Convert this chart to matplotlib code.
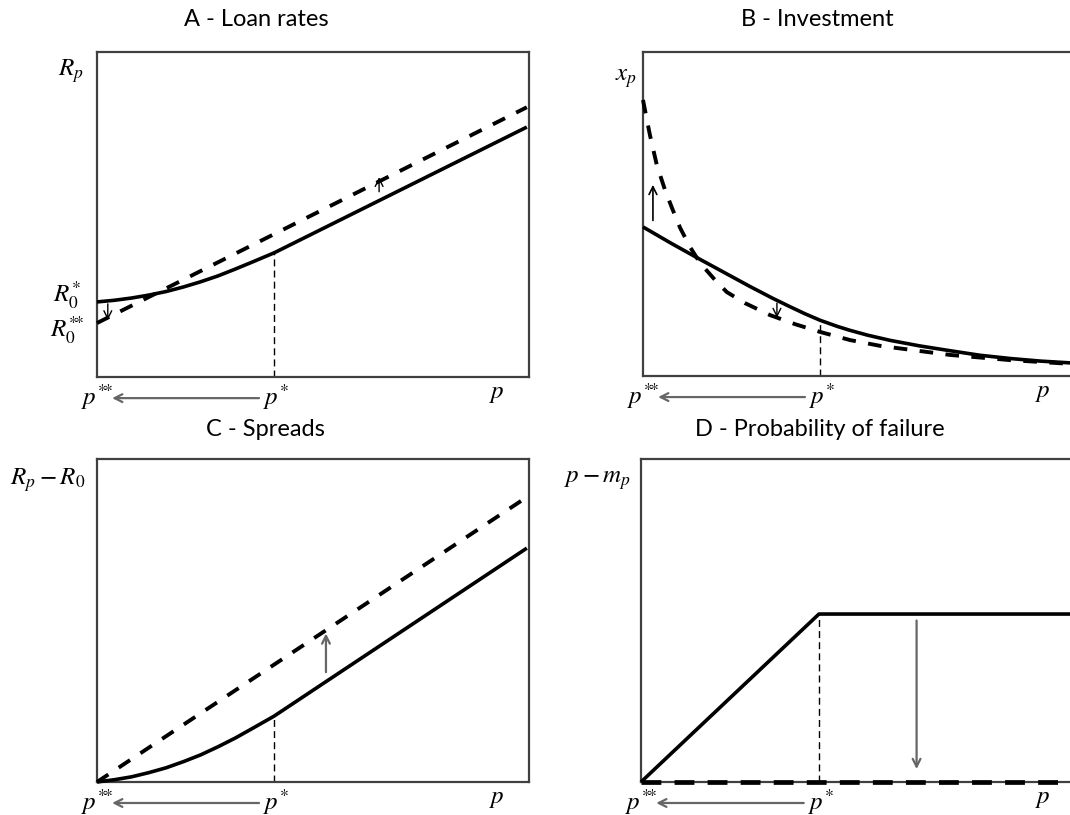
"""Four schematic panels: loan rates, investment, spreads, probability of failure."""

import matplotlib.pyplot as plt
from matplotlib.patches import FancyArrowPatch

plt.rcParams["mathtext.fontset"] = "stix"

# p* position on the normalised p axis
P_STAR = 0.41

# Panel A - loan rates
a_solid_p = [0.0, 0.04, 0.08, 0.12, 0.16, 0.20, 0.24, 0.28, 0.32, 0.36, P_STAR, 0.995]
a_solid_r = [0.231, 0.236, 0.243, 0.252, 0.263, 0.277, 0.293, 0.311, 0.332, 0.354, 0.382, 0.769]
a_dash_p = [0.0, 0.995]
a_dash_r = [0.166, 0.830]

# Panel B - investment
b_solid_p = [0.0, 0.066, 0.132, 0.19, 0.248, 0.30, 0.34, 0.375, P_STAR, 0.45, 0.479,
             0.52, 0.572, 0.64, 0.711, 0.78, 0.85, 0.92, 0.995]
b_solid_x = [0.46, 0.409, 0.360, 0.318, 0.276, 0.240, 0.214, 0.192, 0.172, 0.153, 0.141,
             0.126, 0.110, 0.093, 0.078, 0.064, 0.054, 0.046, 0.040]
b_dash_p = [0.0, 0.016, 0.032, 0.051, 0.067, 0.086, 0.109, 0.132, 0.167, 0.194, 0.236,
            0.294, 0.352, P_STAR, 0.479, 0.549, 0.711, 0.85, 0.995]
b_dash_x = [0.852, 0.744, 0.651, 0.574, 0.519, 0.457, 0.398, 0.349, 0.296, 0.259, 0.225,
            0.188, 0.160, 0.136, 0.111, 0.093, 0.065, 0.049, 0.037]

# Panel C - spreads
c_solid_p = [0.0, 0.04, 0.08, 0.12, 0.16, 0.20, 0.24, 0.28, 0.32, 0.36, P_STAR, 0.995]
c_solid_s = [0.0, 0.007, 0.016, 0.029, 0.044, 0.063, 0.084, 0.109, 0.136, 0.166, 0.204, 0.724]
c_dash_p = [0.0, 0.995]
c_dash_s = [0.0, 0.882]

# Panel D - probability of failure
d_solid_p = [0.0, P_STAR, 1.0]
d_solid_f = [0.0, 0.52, 0.52]
d_dash_p = [0.0, 1.0]
d_dash_f = [0.0, 0.0]

titles = ["A - Loan rates", "B - Investment", "C - Spreads", "D - Probability of failure"]
title_pos = [(256, 20), (817, 20), (265, 430), (820, 430)]

W, H = 1070, 815
fig = plt.figure(figsize=(W / 100, H / 100), dpi=100)

SPINE = "#404040"
ARROW = "#666666"
MATH = 18


def make_axes(left, top, right, bottom):
    ax = fig.add_axes([left / W, 1 - bottom / H, (right - left) / W, (bottom - top) / H])
    ax.set_xlim(0, 1)
    ax.set_ylim(0, 1)
    ax.set_xticks([])
    ax.set_yticks([])
    for s in ax.spines.values():
        s.set_color(SPINE)
        s.set_linewidth(1.6)
    return ax


def solid(ax, x, y):
    ax.plot(x, y, color="black", lw=2.6, solid_capstyle="butt", solid_joinstyle="round",
            clip_on=False, zorder=3)


def dashed(ax, x, y, lw=2.8, dashes=(3.5, 3.2)):
    ax.plot(x, y, color="black", lw=lw, dashes=dashes, clip_on=False, zorder=3)


def vline(ax, top):
    ax.plot([P_STAR, P_STAR], [0, top], color="black", lw=1.0, dashes=(5, 3))


def arrow(ax, start, end, color="black", lw=1.0):
    ax.add_patch(FancyArrowPatch(start, end, arrowstyle="->", mutation_scale=14,
                                 color=color, lw=lw, clip_on=False, shrinkA=0, shrinkB=0))


def p_labels(ax, y=-0.062):
    ax.text(0.0, y, r"$p^{{*}\!{*}}$", fontsize=MATH, ha="center", va="center", clip_on=False)
    ax.text(P_STAR + 0.005, y, r"$p^{*}$", fontsize=MATH, ha="center", va="center", clip_on=False)
    ax.text(0.926, y + 0.012, r"$p$", fontsize=MATH, ha="center", va="center", clip_on=False)
    arrow(ax, (P_STAR - 0.035, y - 0.003), (0.035, y - 0.003), color=ARROW, lw=1.6)


# A
ax = make_axes(97, 52, 529, 377)
solid(ax, a_solid_p, a_solid_r)
dashed(ax, a_dash_p, a_dash_r)
vline(ax, a_solid_r[10])
arrow(ax, (0.025, 0.225), (0.025, 0.175), lw=1.0)
arrow(ax, (0.653, 0.57), (0.653, 0.615), lw=1.0)
ax.text(-0.06, 0.94, r"$R_p$", fontsize=MATH, ha="center", va="center", clip_on=False)
ax.text(-0.07, 0.25, r"$R_0^{*}$", fontsize=MATH, ha="center", va="center", clip_on=False)
ax.text(-0.07, 0.145, r"$R_0^{{*}\!{*}}$", fontsize=MATH, ha="center", va="center", clip_on=False)
p_labels(ax)

# B
ax = make_axes(643, 52, 1075, 376)
solid(ax, b_solid_p, b_solid_x)
dashed(ax, b_dash_p, b_dash_x)
vline(ax, b_solid_x[8])
arrow(ax, (0.023, 0.48), (0.023, 0.59), lw=1.2)
arrow(ax, (0.31, 0.225), (0.31, 0.18), lw=1.0)
ax.text(-0.04, 0.92, r"$x_p$", fontsize=MATH, ha="center", va="center", clip_on=False)
p_labels(ax)

# C
ax = make_axes(97, 459, 529, 782)
solid(ax, c_solid_p, c_solid_s)
dashed(ax, c_dash_p, c_dash_s)
vline(ax, c_solid_s[10])
arrow(ax, (0.53, 0.34), (0.53, 0.46), color=ARROW, lw=1.6)
ax.text(-0.115, 0.935, r"$R_p - R_0$", fontsize=MATH, ha="center", va="center", clip_on=False)
p_labels(ax)

# D
ax = make_axes(641, 459, 1075, 782)
solid(ax, d_solid_p, d_solid_f)
dashed(ax, d_dash_p, d_dash_f, lw=3.4, dashes=(4.2, 2.8))
vline(ax, d_solid_f[1])
arrow(ax, (0.635, 0.5), (0.635, 0.04), color=ARROW, lw=1.6)
ax.text(-0.1, 0.935, r"$p - m_p$", fontsize=MATH, ha="center", va="center", clip_on=False)
p_labels(ax)

for t, (x, y) in zip(titles, title_pos):
    fig.text(x / W, 1 - y / H, t, fontsize=17, family="Lato", ha="center", va="center")

fig.savefig("out.png", dpi=100)
